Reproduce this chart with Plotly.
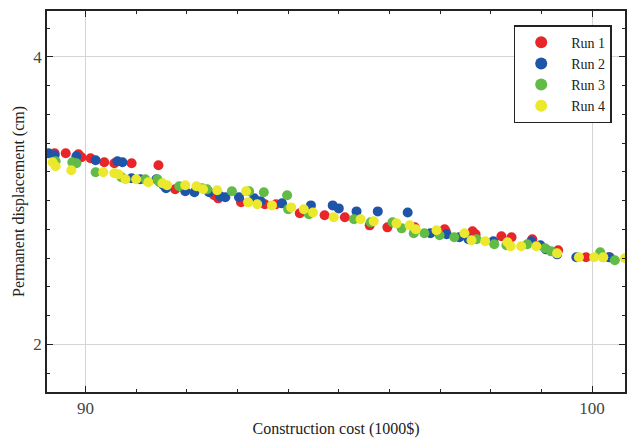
import plotly.graph_objects as go

run1_x = [89.39, 89.61, 89.86, 89.92, 90.10, 90.37, 90.57, 90.91, 91.44, 91.77, 92.54, 92.62, 93.07, 93.54, 93.76,
          94.23, 94.72, 95.12, 95.61, 95.96, 96.50, 97.09, 97.11, 97.64, 97.70, 98.21, 98.41, 98.82, 99.33, 99.88, 100.35]
run1_y = [3.330, 3.330, 3.323, 3.302, 3.295, 3.267, 3.260, 3.260, 3.246, 3.079, 3.037, 3.016, 2.989, 2.975, 2.975,
          2.912, 2.898, 2.884, 2.828, 2.814, 2.814, 2.801, 2.787, 2.787, 2.766, 2.752, 2.745, 2.731, 2.654, 2.606, 2.606]

run2_x = [89.27, 89.39, 89.82, 90.20, 90.63, 90.73, 90.91, 91.08, 91.40, 91.54, 91.59, 91.97, 92.15, 92.44, 92.66,
          92.76, 93.03, 93.33, 93.46, 93.88, 94.45, 94.88, 95.00, 95.35, 95.77, 96.36, 96.81, 97.13, 97.38, 97.56,
          98.05, 98.80, 98.98, 99.09, 99.31, 99.69, 100.33]
run2_y = [3.330, 3.316, 3.309, 3.281, 3.274, 3.267, 3.156, 3.149, 3.149, 3.107, 3.086, 3.065, 3.058, 3.058, 3.030,
          3.023, 3.023, 3.016, 2.995, 2.981, 2.967, 2.967, 2.946, 2.925, 2.925, 2.918, 2.773, 2.766, 2.745, 2.731,
          2.717, 2.717, 2.689, 2.661, 2.626, 2.606, 2.606]

run3_x = [89.41, 89.74, 89.82, 90.20, 90.71, 91.18, 91.42, 91.46, 91.85, 92.30, 92.40, 92.89, 93.23, 93.52, 93.98,
          94.00, 94.41, 95.30, 95.63, 96.06, 96.24, 96.48, 96.69, 96.99, 97.28, 97.72, 98.07, 98.31, 98.72, 99.07,
          99.19, 100.16, 100.22, 100.45]
run3_y = [3.274, 3.267, 3.260, 3.198, 3.163, 3.149, 3.149, 3.128, 3.100, 3.086, 3.079, 3.065, 3.065, 3.058, 3.037,
          2.940, 2.905, 2.870, 2.849, 2.849, 2.807, 2.773, 2.773, 2.759, 2.745, 2.731, 2.696, 2.689, 2.696, 2.668,
          2.647, 2.640, 2.606, 2.585]

run4_x = [89.35, 89.41, 89.72, 90.35, 90.57, 90.65, 90.79, 91.00, 91.24, 91.52, 91.61, 91.97, 92.19, 92.32, 92.60,
          93.17, 93.21, 93.39, 93.68, 94.06, 94.31, 94.49, 94.90, 95.43, 95.69, 96.14, 96.40, 96.52, 96.93, 97.48,
          97.62, 97.89, 98.33, 98.39, 98.60, 98.90, 99.31, 99.74, 100.04, 100.22, 100.65]
run4_y = [3.267, 3.239, 3.211, 3.198, 3.191, 3.184, 3.149, 3.149, 3.128, 3.121, 3.107, 3.107, 3.100, 3.079, 3.072,
          3.065, 2.988, 2.975, 2.967, 2.953, 2.940, 2.918, 2.884, 2.870, 2.856, 2.842, 2.828, 2.801, 2.794, 2.773,
          2.724, 2.717, 2.710, 2.682, 2.682, 2.682, 2.633, 2.606, 2.606, 2.606, 2.599]

series = [
    ("Run 1", run1_x, run1_y, "#e8262a"),
    ("Run 2", run2_x, run2_y, "#1e55a8"),
    ("Run 3", run3_x, run3_y, "#62bb46"),
    ("Run 4", run4_x, run4_y, "#ece82e"),
]

x_ticks = [90, 100]
y_ticks = [2, 4]

font = "Liberation Serif, Times New Roman, serif"

fig = go.Figure()
for name, xs, ys, col in series:
    fig.add_trace(go.Scatter(x=xs, y=ys, mode="markers", name=name,
                             marker=dict(color=col, size=10, line=dict(width=0))))

axis_common = dict(
    showline=True, linecolor="#222", linewidth=1.5, mirror="allticks",
    ticks="inside", ticklen=6, tickcolor="#222", tickwidth=1,
    showgrid=True, gridcolor="#d4d4d4", gridwidth=1, zeroline=False,
    tickfont=dict(family=font, size=17, color="#444"),
)

fig.update_xaxes(range=[89.24, 100.65], tickvals=x_ticks,
                 minor=dict(dtick=1, tick0=90, ticks="inside", ticklen=3, tickcolor="#222", showgrid=False),
                 title=dict(text="Construction cost (1000$)", font=dict(family=font, size=16, color="#222"), standoff=6),
                 **axis_common)
fig.update_yaxes(range=[1.668, 4.32], tickvals=y_ticks,
                 minor=dict(dtick=0.2, tick0=2, ticks="inside", ticklen=3, tickcolor="#222", showgrid=False),
                 title=dict(text="Permanent displacement (cm)", font=dict(family=font, size=16, color="#222"), standoff=5),
                 **axis_common)

fig.update_layout(
    width=633, height=441,
    margin=dict(l=47, r=6, t=11, b=49),
    plot_bgcolor="white", paper_bgcolor="white",
    font=dict(family=font),
    legend=dict(x=0.977, y=0.963, xanchor="right", yanchor="top",
                bordercolor="#222", borderwidth=1.5, bgcolor="white",
                font=dict(family=font, size=14, color="#222"),
                tracegroupgap=0, itemsizing="constant", itemwidth=50,
                indentation=-4),
    showlegend=True,
)

fig.write_html("out.html")
